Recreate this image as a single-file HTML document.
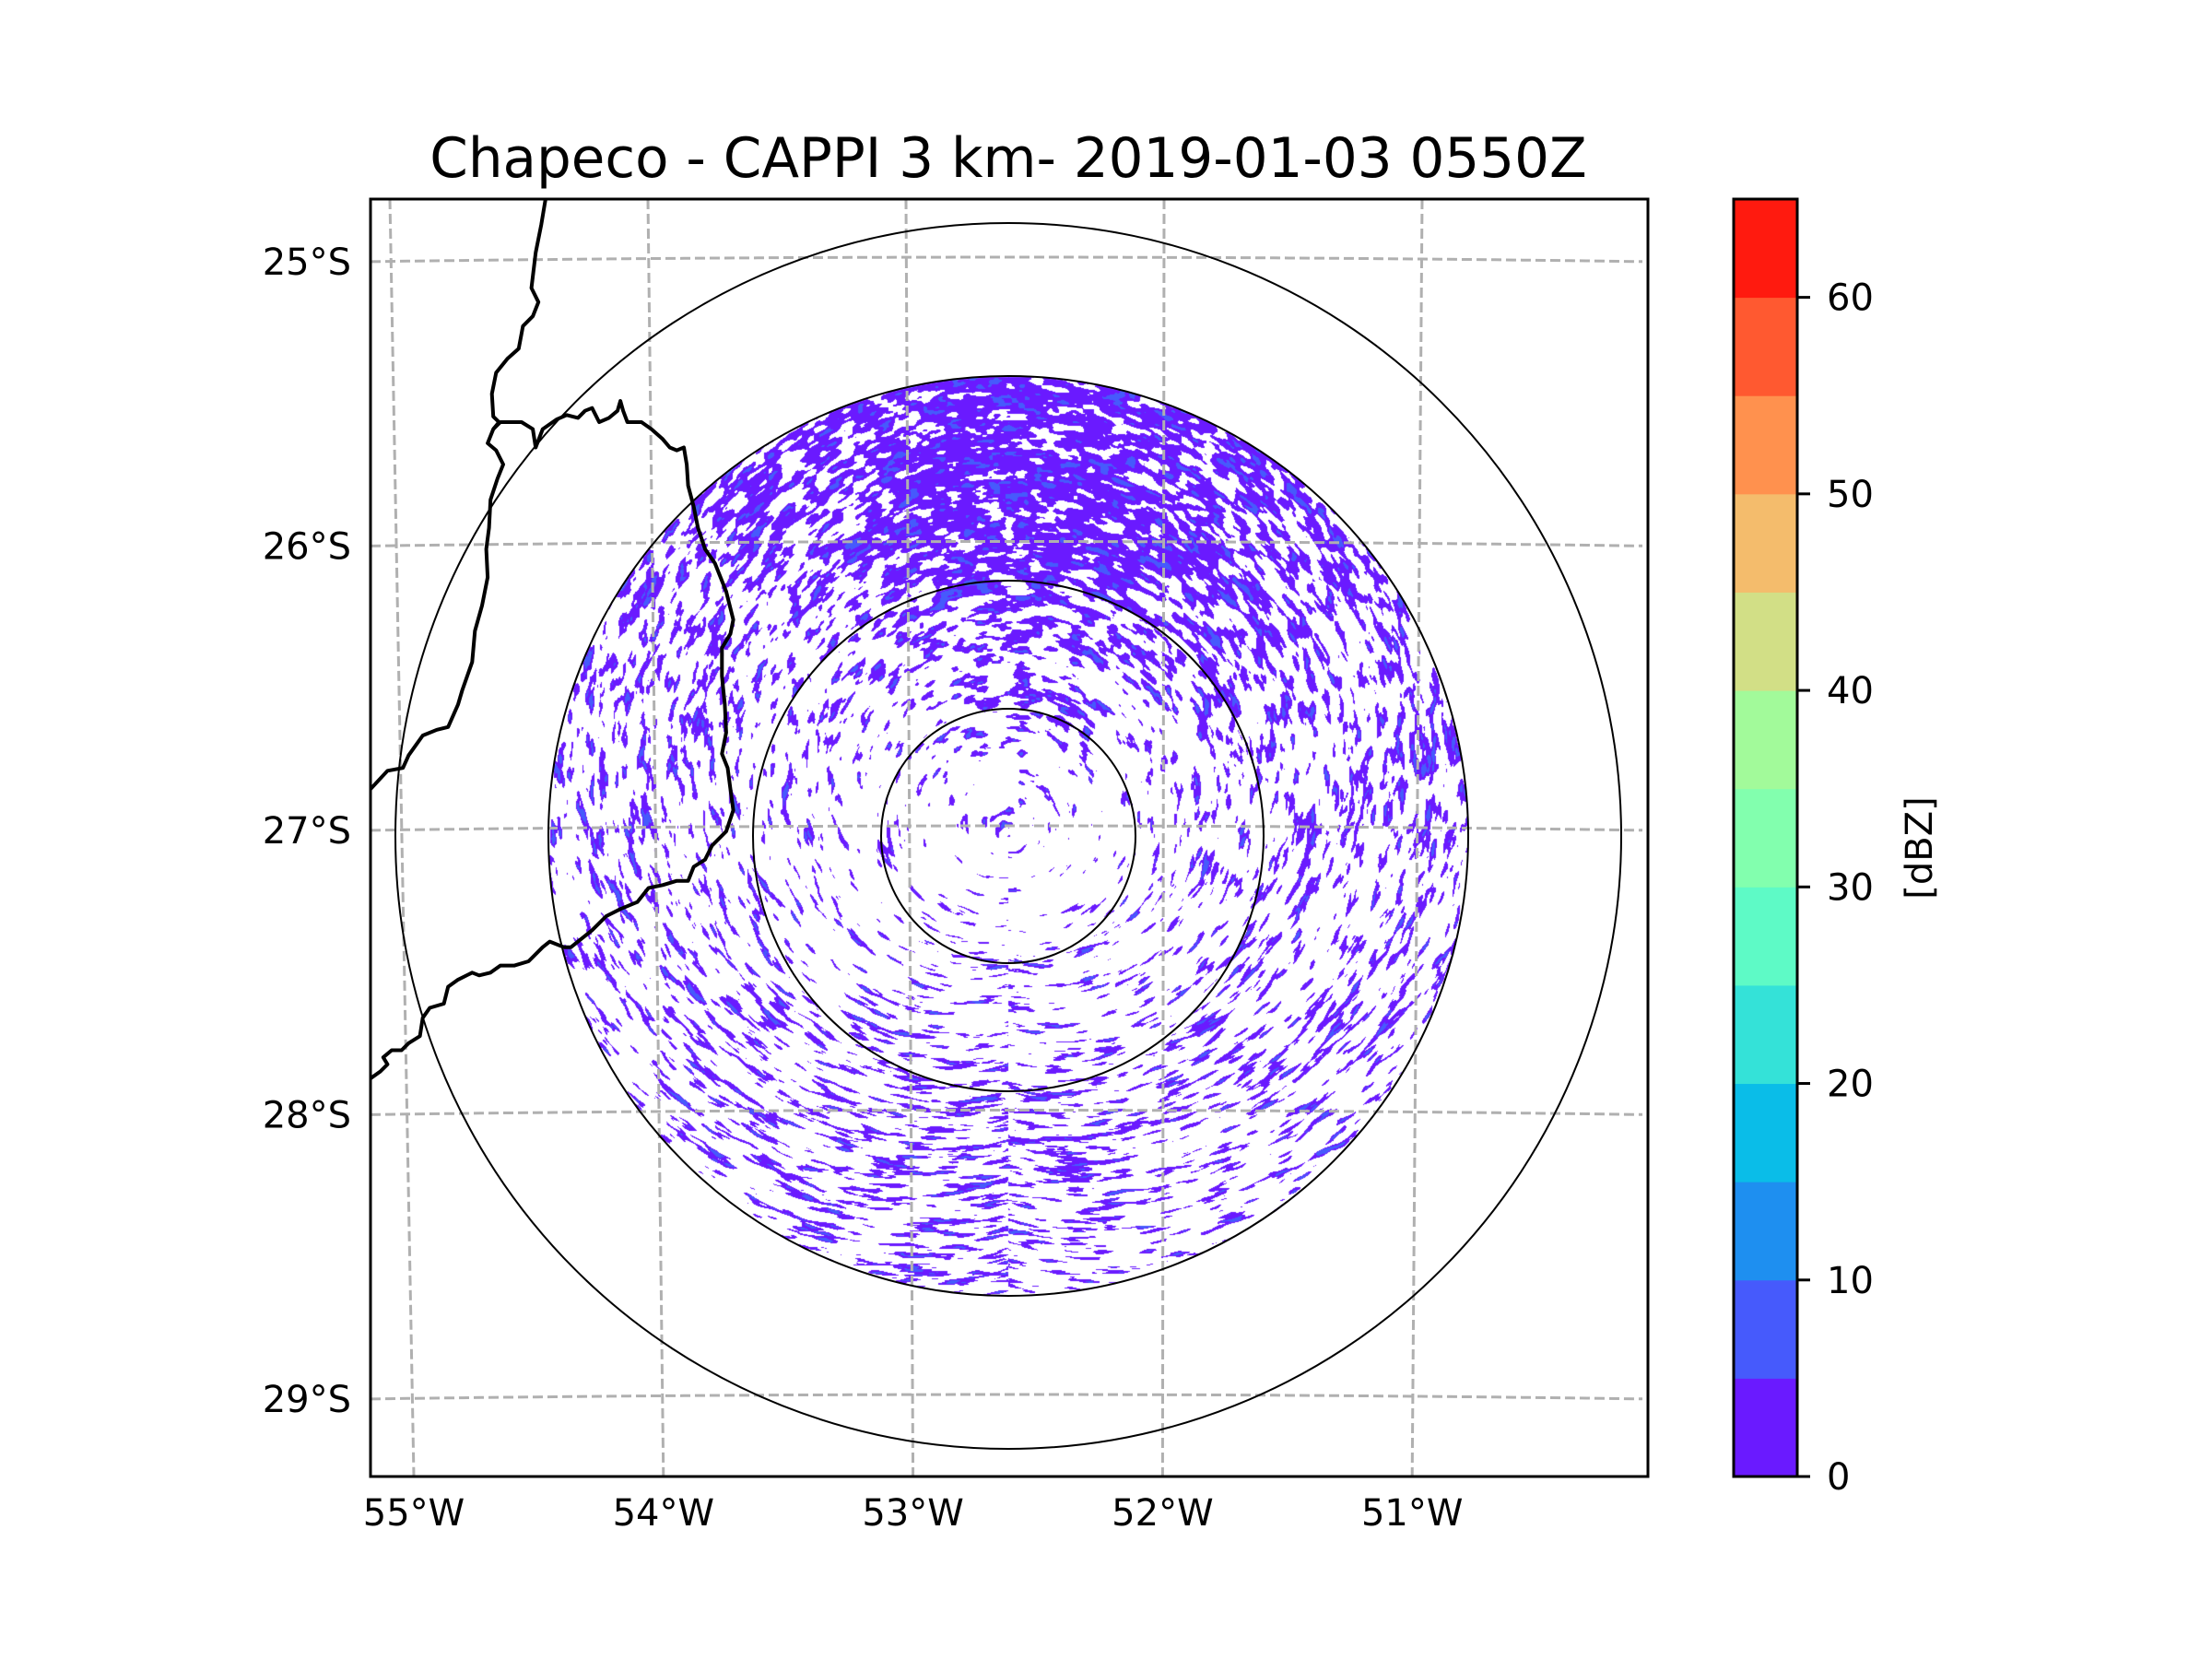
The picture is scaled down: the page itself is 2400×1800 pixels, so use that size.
<!DOCTYPE html>
<html><head><meta charset="utf-8">
<style>
html,body{margin:0;padding:0;background:#fff;}
#wrap{position:relative;width:2400px;height:1800px;overflow:hidden;background:#fff;}
#echo{position:absolute;left:0;top:0;}
#svg{position:absolute;left:0;top:0;}
text{font-family:"DejaVu Sans","Liberation Sans",sans-serif;fill:#000;}
</style></head>
<body>
<div id="wrap">
<canvas id="echo" width="2400" height="1800"></canvas>
<svg id="svg" width="2400" height="1800" xmlns="http://www.w3.org/2000/svg">
  <text x="1094" y="192" font-size="59.5" text-anchor="middle">Chapeco - CAPPI 3 km- 2019-01-03 0550Z</text>
  <defs><clipPath id="plotclip"><rect x="402" y="216" width="1386" height="1386"/></clipPath></defs>
  <g id="grid" clip-path="url(#plotclip)"></g>
  <g id="map" clip-path="url(#plotclip)"></g>
  <g id="rings" clip-path="url(#plotclip)"></g>
  <rect x="402" y="216" width="1386" height="1386" fill="none" stroke="#000" stroke-width="3"/>
  <g id="latlabels"></g>
  <g id="lonlabels"></g>
  <g id="cbar"></g>
  <text transform="translate(2085,920) rotate(-90)" font-size="40" text-anchor="middle" dominant-baseline="middle">[dBZ]</text>
</svg>
</div>
<script>
// ---- colorbar data ----
const cbarBounds = [0,5,10,15,20,25,30,35,40,45,50,55,60,65];
const cbarColors = ["#6a1aff","#465afc","#1e8ff0","#0abde8","#34e2d8","#5efac6","#82ffae","#a2fa9a","#d2df86","#f4bc6c","#ff914e","#ff5930","#ff1a0f"];
const cbarTicks = [0,10,20,30,40,50,60];
// ---- map axes ticks ----
const latTicks = [25,26,27,28,29];
const lonTicks = [55,54,53,52,51];
const latLabels = ["25°S","26°S","27°S","28°S","29°S"];
const lonLabels = ["55°W","54°W","53°W","52°W","51°W"];
// ---- radar echo density (rings x 12 azimuth sectors from N clockwise) ----
const ringFractions = [0.14, 0.42, 0.66, 0.92];
const densRing0 = [0.08,0.05,0.04,0.04,0.04,0.04,0.04,0.04,0.03,0.03,0.04,0.07];
const densRing1 = [0.40,0.22,0.15,0.12,0.12,0.13,0.14,0.10,0.09,0.10,0.15,0.38];
const densRing2 = [0.78,0.52,0.30,0.22,0.25,0.32,0.38,0.25,0.16,0.18,0.28,0.72];
const densRing3 = [0.78,0.52,0.30,0.20,0.18,0.18,0.22,0.18,0.16,0.24,0.52,0.82];
const rangeRingsKm = [50,100,180,240];

const NS='http://www.w3.org/2000/svg';
const CX=1094, CY=907, RDATA=499;
function latY(lat, x){
  const base = 279 + (lat-25)*308.5;
  const t=(x-1094)/700; return base + 5*t*t;
}
function lonX(lon, y){
  const k=(y-216)/1386;
  const top = 423 + (55-lon)*280, bot = 449 + (55-lon)*270.8;
  return top + (bot-top)*k;
}
function ringR(km){ return km<=50?138: km<=100?277: km<=180?499:665; }
function cbY(v){ return 1602 - (v-0)/(65-0)*1386; }

function el(tag, attrs, parent){ const e=document.createElementNS(NS,tag); for(const k in attrs) e.setAttribute(k,attrs[k]); parent.appendChild(e); return e; }

const grid=document.getElementById('grid');
latTicks.forEach((lat,i)=>{
  let d=''; for(let x=402;x<=1790;x+=20){ d+=(x===402?'M':'L')+x+','+latY(lat,x).toFixed(1); }
  const p=el('path',{d:d,fill:'none',stroke:'#b0b0b0','stroke-width':3,'stroke-dasharray':'11,5'},grid);
  
  
});
lonTicks.forEach((lon,i)=>{
  const p=el('line',{x1:lonX(lon,216),y1:216,x2:lonX(lon,1602),y2:1602,stroke:'#b0b0b0','stroke-width':3,'stroke-dasharray':'11,5'},grid);
  
  
});
const latG=document.getElementById('latlabels');
latTicks.forEach((lat,i)=>{
  const t=el('text',{x:381,y:latY(lat,402)+14,'font-size':40,'text-anchor':'end'},latG);
  t.textContent=latLabels[i];
  
  
});
const lonG=document.getElementById('lonlabels');
lonTicks.forEach((lon,i)=>{
  const t=el('text',{x:lonX(lon,1602),y:1655,'font-size':40,'text-anchor':'middle'},lonG);
  t.textContent=lonLabels[i];
  
  
});
function T(p){ return [402+(p[0]-263)*1.5315, 216+(p[1]-142)*1.5315]; }
const coastA=[[387,142],[384,160],[380,180],[377,205],[382,215],[378,225],[371,232],[368,248],[360,255],[352,265],[349,280],[350,296],[354,300],[350,305],[346,315],[352,320],[357,330],[353,340],[348,355],[347,375],[345,390],[346,410],[342,430],[337,448],[335,470],[328,490],[325,500],[318,516],[310,518],[300,522],[290,536],[286,545],[275,547],[263,560]];
const borderB=[[350,305],[355,300],[370,300],[378,305],[380,318],[385,305],[395,298],[402,295],[410,297],[415,292],[420,290],[425,300],[432,297],[438,292],[440,285],[442,292],[445,300],[455,300],[462,305],[470,312],[475,318],[480,320],[485,318],[487,330],[488,345],[492,360],[495,375],[500,390],[507,400],[515,420],[520,440],[518,450],[512,460],[512,480],[514,500],[515,520],[512,535],[516,545],[518,560],[520,575],[515,590],[505,600],[500,610],[492,615],[488,625],[480,625],[470,628],[460,630],[452,640],[440,645],[430,650],[420,660],[410,668],[405,672],[400,672],[390,668],[385,672],[375,682],[365,685],[355,685],[348,690],[340,692],[335,690],[325,695],[318,700],[315,712],[305,715],[300,722],[298,735],[290,740],[285,745],[278,745],[272,750],[275,755],[270,760],[263,765]];
const mapG=document.getElementById('map');
[[coastA,'state-border-west'],[borderB,'state-border-sc-rs']].forEach(([pts,nm])=>{
  const d=pts.map((p,i)=>{const q=T(p);return (i?'L':'M')+q[0].toFixed(1)+','+q[1].toFixed(1);}).join('');
  const p=el('path',{d:d,fill:'none',stroke:'#000','stroke-width':4,'stroke-linejoin':'round'},mapG);
  
  
});
const ringG=document.getElementById('rings');
rangeRingsKm.forEach(km=>{
  const c=el('circle',{cx:CX,cy:CY,r:ringR(km),fill:'none',stroke:'#000','stroke-width':2},ringG);
  
  
});
const cb=document.getElementById('cbar');
cbarColors.forEach((c,i)=>{
  const y1=cbY(cbarBounds[i+1]), y0=cbY(cbarBounds[i]);
  const r=el('rect',{x:1881,y:y1,width:69,height:y0-y1+0.5,fill:c},cb);
  
  
});
el('rect',{x:1881,y:216,width:69,height:1386,fill:'none',stroke:'#000','stroke-width':3},cb);
cbarTicks.forEach(v=>{
  el('line',{x1:1950,y1:cbY(v),x2:1964,y2:cbY(v),stroke:'#000','stroke-width':3},cb);
  const t=el('text',{x:1982,y:cbY(v)+14,'font-size':40},cb);
  t.textContent=String(v);
  
  
});

(function(){
  const cv=document.getElementById('echo'); const ctx=cv.getContext('2d');
  const S=RDATA*2+2, X0=CX-RDATA-1, Y0=CY-RDATA-1;
  const img=ctx.createImageData(S,S);
  function h(i,j){ let n=(i*374761393 + j*668265263)|0; n=(n^(n>>>13))*1274126177|0; n=n^(n>>>16); return (n>>>0)/4294967296; }
  function sm(t){return t*t*(3-2*t);}
  function vn(x,y){ const i=Math.floor(x), j=Math.floor(y), fx=sm(x-i), fy=sm(y-j);
    const a=h(i,j),b=h(i+1,j),c=h(i,j+1),d=h(i+1,j+1);
    return a+(b-a)*fx+(c-a)*fy+(a-b-c+d)*fx*fy; }
  const rings=[densRing0,densRing1,densRing2,densRing3];
  function dens(rf,az){
    const s=az/30-0.5; const i0=Math.floor(s), f=s-i0;
    const a=(i0%12+12)%12, b=(a+1)%12;
    const ringVal=k=>rings[k][a]*(1-f)+rings[k][b]*f;
    if(rf<=ringFractions[0]) return ringVal(0);
    if(rf>=ringFractions[3]) return ringVal(3);
    for(let k=0;k<3;k++){ if(rf<=ringFractions[k+1]){ const t=(rf-ringFractions[k])/(ringFractions[k+1]-ringFractions[k]); return ringVal(k)*(1-t)+ringVal(k+1)*t; } }
  }
  const N=new Float32Array(S*S), D=new Float32Array(S*S); const sample=[];
  for(let py=0;py<S;py++) for(let px=0;px<S;px++){
    const dx=px+X0-CX, dy=py+Y0-CY; const r=Math.hypot(dx,dy); const k=py*S+px;
    if(r>RDATA){N[k]=2;continue;}
    const th=Math.atan2(dx,-dy); let az=th*180/Math.PI; if(az<0) az+=360;
    const u=r/6.5, v=r*th/15;
    const n=0.65*vn(u,v)+0.35*vn(u*2.3+17,v*2.3+31);
    N[k]=n; D[k]=dens(r/RDATA,az);
    if((px%7===0)&&(py%7===0)) sample.push(n);
  }
  sample.sort((a,b)=>a-b);
  const q=p=>sample[Math.min(sample.length-1,Math.max(0,Math.floor(p*sample.length)))];
  const Q=[]; for(let i=0;i<=100;i++) Q.push(q(i/100));
  const qd=d=>{const t=d*100,i=Math.floor(t);return i>=100?Q[100]:Q[i]+(Q[i+1]-Q[i])*(t-i);};
  for(let k=0;k<S*S;k++){
    if(N[k]>1) continue;
    const th=qd(D[k]);
    if(N[k]<th){
      const o=k*4; const blue=N[k]<qd(D[k]*0.12);
      img.data[o]=blue?0x46:0x6a; img.data[o+1]=blue?0x5a:0x1a; img.data[o+2]=blue?0xfc:0xff; img.data[o+3]=255;
    }
  }
  ctx.putImageData(img,X0,Y0);
})();
</script>
</body></html>
